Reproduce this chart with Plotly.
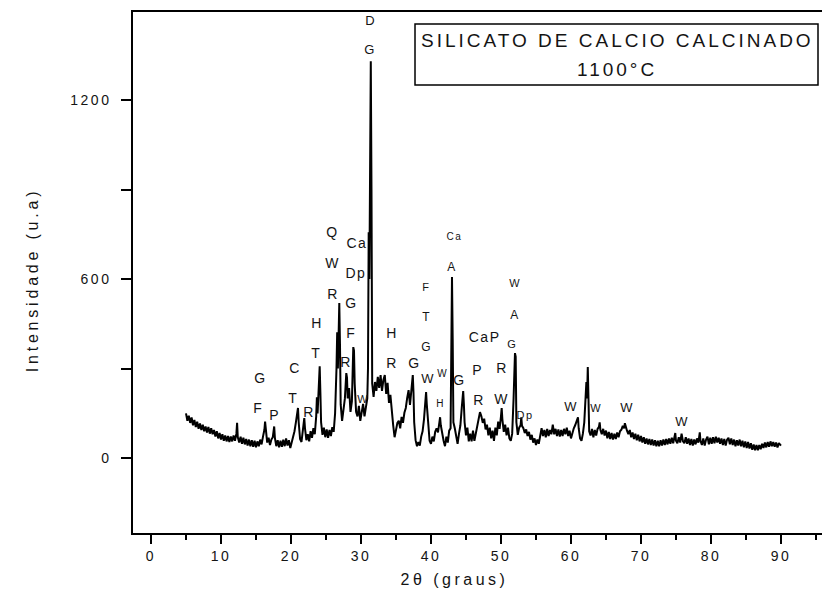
import plotly.graph_objects as go

# ---- data: (2theta in degrees, intensity in a.u.) ----
low_angle = [
    (5.0, 150), (5.2, 125), (5.4, 142), (5.6, 118), (5.8, 136), (6.0, 110), (6.2, 128), (6.4, 104),
    (6.6, 122), (6.8, 98), (7.0, 116), (7.2, 94), (7.4, 112), (7.6, 90), (7.8, 106), (8.0, 86),
    (8.2, 104), (8.4, 82), (8.6, 100), (8.8, 80), (9.0, 94), (9.2, 72), (9.4, 90), (9.6, 66),
    (9.8, 84), (10.0, 62), (10.2, 80), (10.4, 58), (10.6, 76), (10.8, 56), (11.0, 74), (11.2, 54),
    (11.4, 72), (11.6, 56), (11.8, 76), (12.0, 58), (12.2, 82), (12.3, 118), (12.4, 70), (12.6, 52),
    (12.8, 72), (13.0, 48), (13.2, 68), (13.4, 46), (13.6, 64), (13.8, 42), (14.0, 62), (14.2, 40),
    (14.4, 60), (14.6, 38), (14.8, 58), (15.0, 36), (15.2, 56), (15.4, 40), (15.6, 62), (15.8, 46),
    (16.0, 72), (16.2, 95), (16.3, 122), (16.4, 86), (16.6, 52), (16.8, 68), (17.0, 44), (17.2, 62),
    (17.4, 70), (17.6, 106), (17.7, 68), (17.9, 40), (18.1, 60), (18.3, 36), (18.5, 58), (18.7, 38),
    (18.9, 62), (19.1, 40), (19.3, 66), (19.5, 42), (19.7, 60), (19.9, 34),
]

main_region = [
    (20.1, 52), (20.3, 64), (20.5, 90), (20.7, 120), (20.9, 152), (21.0, 168), (21.1, 120), (21.3, 64),
    (21.5, 54), (21.7, 92), (21.9, 134), (22.0, 100), (22.2, 60), (22.4, 80), (22.6, 56), (22.8, 90),
    (23.0, 68), (23.2, 100), (23.4, 80), (23.6, 140), (23.7, 204), (23.8, 150), (24.0, 250), (24.1, 308),
    (24.2, 220), (24.3, 120), (24.5, 78), (24.7, 102), (24.9, 70), (25.1, 96), (25.3, 68), (25.5, 94),
    (25.7, 74), (25.9, 104), (26.1, 88), (26.3, 150), (26.5, 300), (26.6, 422), (26.7, 300), (26.8, 420),
    (26.9, 520), (27.0, 380), (27.1, 180), (27.3, 125), (27.5, 165), (27.7, 200), (27.9, 285), (28.0, 270),
    (28.1, 200), (28.3, 235), (28.5, 155), (28.7, 190), (28.9, 372), (29.0, 360), (29.1, 250), (29.3, 155),
    (29.5, 140), (29.7, 175), (29.9, 125), (30.1, 155), (30.3, 182), (30.5, 140), (30.7, 172), (30.9, 200),
    (31.0, 300), (31.1, 757), (31.2, 600), (31.3, 1000), (31.4, 1330), (31.5, 900), (31.6, 250), (31.8, 205),
    (32.0, 255), (32.2, 225), (32.4, 272), (32.6, 235), (32.8, 278), (33.0, 225), (33.2, 262), (33.4, 278),
    (33.6, 215), (33.8, 252), (34.0, 185), (34.2, 212), (34.4, 150), (34.6, 110), (34.8, 70), (35.0, 92),
    (35.2, 118), (35.4, 125), (35.6, 100), (35.8, 138), (36.0, 118), (36.2, 152), (36.4, 168), (36.6, 202),
    (36.8, 228), (37.0, 178), (37.2, 240), (37.4, 278), (37.5, 220), (37.6, 120), (37.8, 60), (38.0, 40),
    (38.2, 54), (38.4, 42), (38.6, 72), (38.8, 90), (39.0, 130), (39.2, 180), (39.3, 221), (39.4, 180),
    (39.6, 100), (39.8, 58),
]

mid_region = [
    (40.0, 48), (40.2, 72), (40.4, 56), (40.6, 88), (40.8, 100), (41.0, 86), (41.2, 120), (41.3, 137),
    (41.4, 110), (41.6, 78), (41.8, 58), (42.0, 40), (42.2, 72), (42.4, 52), (42.6, 92), (42.8, 100),
    (42.9, 300), (43.0, 607), (43.1, 400), (43.2, 120), (43.4, 100), (43.6, 66), (43.8, 48), (44.0, 82),
    (44.2, 110), (44.4, 170), (44.6, 225), (44.7, 180), (44.8, 120), (45.0, 76), (45.2, 102), (45.4, 56),
    (45.6, 82), (45.8, 56), (46.0, 92), (46.2, 58), (46.4, 82), (46.6, 110), (46.8, 130), (47.0, 154),
    (47.2, 140), (47.4, 118), (47.6, 132), (47.8, 96), (48.0, 112), (48.2, 76), (48.4, 102), (48.6, 66),
    (48.8, 92), (49.0, 58), (49.2, 102), (49.4, 76), (49.6, 122), (49.8, 98), (50.0, 140), (50.1, 168),
    (50.2, 130), (50.4, 88), (50.6, 112), (50.8, 76), (51.0, 102), (51.2, 66), (51.4, 58), (51.6, 82),
    (51.8, 200), (51.9, 300), (52.0, 352), (52.1, 340), (52.2, 120), (52.4, 78), (52.6, 102), (52.8, 110),
    (52.9, 137), (53.0, 108), (53.2, 100), (53.4, 84), (53.6, 96), (53.8, 74), (54.0, 88), (54.2, 62),
    (54.4, 78), (54.6, 52), (54.8, 66), (55.0, 44), (55.2, 62), (55.4, 48), (55.6, 74), (55.8, 100),
    (56.0, 74), (56.2, 94), (56.4, 70), (56.6, 98), (56.8, 74), (57.0, 94), (57.2, 80), (57.4, 112),
    (57.6, 80), (57.8, 98), (58.0, 74), (58.2, 96), (58.4, 72), (58.6, 94), (58.8, 74), (59.0, 98),
    (59.2, 80), (59.4, 102), (59.6, 74), (59.8, 92),
]

high_angle = [
    (60.0, 66), (60.2, 88), (60.4, 100), (60.6, 110), (60.8, 125), (61.0, 137), (61.1, 100), (61.3, 66),
    (61.5, 58), (61.7, 82), (61.9, 120), (62.1, 200), (62.2, 255), (62.3, 200), (62.4, 305), (62.5, 200),
    (62.6, 90), (62.8, 76), (63.0, 98), (63.2, 70), (63.4, 94), (63.6, 76), (63.8, 98), (64.0, 105),
    (64.1, 120), (64.2, 95), (64.4, 80), (64.6, 98), (64.8, 76), (65.0, 92), (65.2, 66), (65.4, 88),
    (65.6, 64), (65.8, 84), (66.0, 62), (66.2, 82), (66.4, 64), (66.6, 86), (66.8, 70), (67.0, 90),
    (67.2, 95), (67.4, 108), (67.6, 100), (67.7, 117), (67.8, 105), (68.0, 92), (68.2, 80), (68.4, 94),
    (68.6, 70), (68.8, 86), (69.0, 64), (69.2, 82), (69.4, 60), (69.6, 78), (69.8, 56), (70.0, 74),
    (70.2, 52), (70.4, 70), (70.6, 48), (70.8, 66), (71.0, 46), (71.2, 64), (71.4, 44), (71.6, 62),
    (71.8, 42), (72.0, 60), (72.2, 40), (72.4, 58), (72.6, 40), (72.8, 60), (73.0, 42), (73.2, 62),
    (73.4, 44), (73.6, 64), (73.8, 46), (74.0, 66), (74.2, 48), (74.4, 68), (74.6, 50), (74.8, 70),
    (74.9, 84), (75.0, 58), (75.2, 50), (75.4, 70), (75.6, 52), (75.8, 82), (76.0, 56), (76.2, 50),
    (76.4, 70), (76.6, 48), (76.8, 66), (77.0, 44), (77.2, 64), (77.4, 42), (77.6, 62), (77.8, 46),
    (78.0, 66), (78.2, 52), (78.4, 86), (78.5, 58), (78.7, 44), (78.9, 66), (79.1, 42), (79.3, 62),
    (79.5, 72), (79.7, 46), (79.9, 68), (80.1, 48), (80.3, 70), (80.5, 50), (80.7, 72), (80.9, 52),
    (81.1, 68), (81.3, 48), (81.5, 66), (81.7, 44), (81.9, 64), (82.1, 42), (82.3, 62), (82.5, 68),
    (82.7, 46), (82.9, 66), (83.1, 44), (83.3, 62), (83.5, 40), (83.7, 60), (83.9, 42), (84.1, 62),
    (84.3, 40), (84.5, 58), (84.7, 36), (84.9, 56), (85.1, 34), (85.3, 54), (85.5, 32), (85.7, 50),
    (85.9, 28), (86.1, 46), (86.3, 26), (86.5, 44), (86.7, 26), (86.9, 44), (87.1, 30), (87.3, 48),
    (87.5, 34), (87.7, 52), (87.9, 36), (88.1, 54), (88.3, 38), (88.5, 56), (88.7, 40), (88.9, 54),
    (89.1, 38), (89.3, 52), (89.5, 36), (89.7, 50), (90.0, 42),
]

x_tick_vals = [0, 10, 20, 30, 40, 50, 60, 70, 80, 90]
x_minor_vals = [5, 15, 25, 35, 45, 55, 65, 75, 85, 95]
y_tick_vals = [0, 600, 1200]
y_minor_vals = [300, 900]

x_title = "2θ (graus)"
y_title = "Intensidade (u.a)"
box_line1 = "SILICATO DE CALCIO CALCINADO"
box_line2 = "1100°C"

# phase labels: text, 2theta, intensity position, font size
peak_labels = [
    ("G", 15.6, 268, 14), ("F", 15.4, 168, 14), ("P", 17.6, 144, 14),
    ("C", 20.6, 302, 14), ("T", 20.4, 201, 14), ("R", 22.6, 154, 14),
    ("H", 23.7, 453, 14), ("T", 23.6, 352, 14),
    ("Q", 25.9, 758, 14), ("W", 26.0, 654, 14), ("R", 26.0, 550, 14),
    ("Ca", 29.4, 721, 14), ("Dp", 29.3, 620, 14), ("G", 28.6, 520, 14),
    ("F", 28.6, 419, 14), ("R", 27.9, 322, 14),
    ("W", 30.4, 198, 11),
    ("D", 31.3, 1468, 13), ("G", 31.3, 1368, 13),
    ("H", 34.4, 419, 14), ("R", 34.4, 318, 14), ("G", 37.6, 318, 14),
    ("F", 39.3, 573, 11), ("T", 39.4, 473, 12), ("G", 39.4, 372, 12),
    ("W", 39.6, 268, 13), ("W", 41.7, 285, 10), ("H", 41.4, 184, 10),
    ("Ca", 43.4, 741, 10), ("A", 43.0, 640, 12), ("G", 44.1, 261, 14),
    ("CaP", 47.7, 406, 14), ("P", 46.7, 295, 14), ("R", 46.9, 194, 14),
    ("R", 50.1, 302, 14), ("W", 50.1, 198, 14),
    ("W", 52.1, 587, 11), ("A", 52.0, 479, 12), ("G", 51.7, 382, 11),
    ("Dp", 53.4, 144, 11),
    ("W", 60.1, 174, 13), ("W", 63.7, 168, 11), ("W", 68.1, 171, 13), ("W", 75.9, 124, 13),
]

points = low_angle + main_region + mid_region + high_angle
two_theta = [p[0] for p in points]
intensity = [p[1] for p in points]

FONT = "Liberation Sans, Arial, sans-serif"
INK = "#141414"

fig = go.Figure()
fig.add_trace(go.Scatter(x=two_theta, y=intensity, mode="lines",
                         line=dict(color="black", width=2), showlegend=False,
                         hoverinfo="skip"))

annotations = [
    dict(text=x_title, xref="paper", yref="paper", x=0.467, y=-0.090,
         showarrow=False, xanchor="center", yanchor="middle",
         font=dict(family=FONT, size=16, color=INK)),
    dict(text=y_title, xref="paper", yref="paper", x=-0.1466, y=0.4856,
         showarrow=False, xanchor="center", yanchor="middle", textangle=-90,
         font=dict(family=FONT, size=16, color=INK)),
    dict(text=box_line1, xref="paper", yref="paper", x=0.7025, y=0.946,
         showarrow=False, xanchor="center", yanchor="middle",
         font=dict(family=FONT, size=19, color=INK)),
    dict(text=box_line2, xref="paper", yref="paper", x=0.7025, y=0.889,
         showarrow=False, xanchor="center", yanchor="middle",
         font=dict(family=FONT, size=19, color=INK)),
]
for txt, px, py, sz in peak_labels:
    annotations.append(dict(text=txt, x=px, y=py, xref="x", yref="y", showarrow=False,
                            xanchor="center", yanchor="middle",
                            font=dict(family=FONT, size=sz, color=INK)))

fig.update_layout(
    width=822, height=608,
    margin=dict(l=133, r=0, t=12, b=75, pad=0),
    paper_bgcolor="white", plot_bgcolor="white",
    annotations=annotations,
    shapes=[dict(type="rect", xref="paper", yref="paper",
                 x0=0.4093, x1=0.9942, y0=0.860, y1=0.977,
                 line=dict(color="black", width=1.5), fillcolor="rgba(0,0,0,0)")],
    xaxis=dict(range=[-2.57, 95.86], showline=True, linecolor="black", linewidth=1.5,
               mirror=True, ticks="outside", ticklen=9, tickwidth=1.5, tickcolor="black",
               tickmode="array", tickvals=x_tick_vals,
               minor=dict(tickmode="array", tickvals=x_minor_vals, ticks="outside",
                          ticklen=5, tickwidth=1.5, tickcolor="black"),
               showgrid=False, zeroline=False,
               tickfont=dict(family=FONT, size=14, color=INK)),
    yaxis=dict(range=[-251, 1495], showline=True, linecolor="black", linewidth=1.5,
               mirror=False, ticks="outside", ticklen=10, tickwidth=1.5, tickcolor="black",
               tickmode="array", tickvals=y_tick_vals,
               minor=dict(tickmode="array", tickvals=y_minor_vals, ticks="outside",
                          ticklen=10, tickwidth=1.5, tickcolor="black"),
               showgrid=False, zeroline=False, ticklabelstandoff=7,
               tickfont=dict(family=FONT, size=14, color=INK)),
)

post_js = """
(function(){
  var gd = document.getElementById('{plot_id}');
  function spacing(){
    gd.querySelectorAll('.xtick text, .ytick text').forEach(function(t){ t.style.letterSpacing = '2.5px'; });
    gd.querySelectorAll('.annotation').forEach(function(a){
      var i = +a.getAttribute('data-index');
      var t = a.querySelector('text');
      if (!t) return;
      t.style.letterSpacing = (i === 0) ? '3.5px' : (i === 1) ? '3.8px' : (i < 4) ? '3px' : '1.5px';
    });
  }
  spacing();
  gd.on && gd.on('plotly_afterplot', spacing);
})();
"""

fig.write_html("out.html", post_script=post_js)
